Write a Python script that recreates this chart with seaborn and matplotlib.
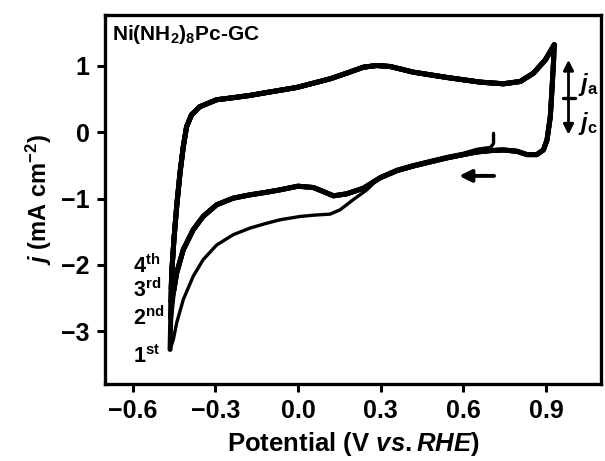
import matplotlib
matplotlib.use("Agg")
import matplotlib.pyplot as plt
import numpy as np
import pandas as pd
import seaborn as sns

# ---------------- data ----------------
# first cathodic sweep, starting at open circuit (0.71 V)
cat1_v = [0.71, 0.71, 0.70, 0.65, 0.60, 0.54, 0.48, 0.42, 0.36, 0.30, 0.25, 0.20,
          0.153, 0.117, 0.06, 0.008, -0.065, -0.12, -0.174, -0.235, -0.295, -0.344,
          -0.38, -0.416, -0.44, -0.452]
cat1_j = [-0.02, -0.17, -0.23, -0.26, -0.32, -0.37, -0.43, -0.49, -0.56, -0.67, -0.87, -1.02,
          -1.17, -1.235, -1.25, -1.27, -1.32, -1.38, -1.445, -1.545, -1.70, -1.92,
          -2.17, -2.52, -2.87, -3.12]

# anodic sweep (shared by all cycles, from just above the vertex to 0.93 V)
an_v = [-0.458, -0.45, -0.44, -0.428, -0.416, -0.404, -0.386, -0.356, -0.295, -0.247,
        -0.174, -0.126, -0.004, 0.117, 0.177, 0.238, 0.286, 0.335, 0.419, 0.541,
        0.662, 0.746, 0.807, 0.855, 0.898, 0.93]
an_j = [-2.12, -1.62, -1.12, -0.62, -0.22, 0.08, 0.26, 0.38, 0.485, 0.51,
        0.55, 0.585, 0.67, 0.80, 0.885, 0.975, 1.0, 0.985, 0.90, 0.82,
        0.75, 0.725, 0.76, 0.885, 1.085, 1.31]

# cathodic sweep of cycles 2-4 (from 0.93 V down to just above the vertex)
cat_v = [0.93, 0.928, 0.922, 0.916, 0.904, 0.891, 0.867, 0.831, 0.795, 0.746, 0.698,
         0.65, 0.60, 0.54, 0.48, 0.42, 0.36, 0.298, 0.238, 0.177, 0.129, 0.092,
         0.056, 0.0, -0.065, -0.12, -0.174, -0.235, -0.295, -0.344, -0.38, -0.416,
         -0.44, -0.452]
cat_j = [1.31, 1.085, 0.635, 0.23, -0.12, -0.27, -0.34, -0.34, -0.29, -0.27, -0.28,
         -0.30, -0.34, -0.39, -0.45, -0.51, -0.58, -0.69, -0.845, -0.93, -0.96, -0.895,
         -0.835, -0.815, -0.87, -0.91, -0.945, -0.995, -1.095, -1.27, -1.47, -1.77,
         -2.12, -2.42]

# cathodic vertex of each cycle
cycles = ["1st", "2nd", "3rd", "4th"]
vertex_v = [-0.464, -0.462, -0.461, -0.460]
vertex_j = [-3.27, -2.80, -2.55, -2.35]

cycle_labels = ["4$^{\\mathrm{th}}$", "3$^{\\mathrm{rd}}$", "2$^{\\mathrm{nd}}$", "1$^{\\mathrm{st}}$"]
cycle_label_j = [-2.12, -2.48, -2.90, -3.475]

xticks = [-0.6, -0.3, 0.0, 0.3, 0.6, 0.9]
yticks = [-3, -2, -1, 0, 1]

# ---------------- build segments ----------------
rows = []
def add(seg, vs, js):
    for k, (v, j) in enumerate(zip(vs, js)):
        rows.append(dict(segment=seg, order=k, potential=v, j=j))

add("cat1", cat1_v + [vertex_v[0]], cat1_j + [vertex_j[0]])
for c, vv, vj in zip(cycles, vertex_v, vertex_j):
    add("an_" + c, [vv] + an_v, [vj] + an_j)
for c, vv, vj in zip(cycles[1:], vertex_v[1:], vertex_j[1:]):
    add("cat_" + c, cat_v + [vv], cat_j + [vj])
df = pd.DataFrame(rows)

# ---------------- style ----------------
sns.set_style("ticks")
plt.rcParams["font.family"] = ["Liberation Sans", "DejaVu Sans"]
plt.rcParams["font.weight"] = "bold"
plt.rcParams["text.color"] = "black"
plt.rcParams["axes.labelcolor"] = "black"
plt.rcParams["xtick.color"] = "black"
plt.rcParams["ytick.color"] = "black"
plt.rcParams["mathtext.fontset"] = "custom"
plt.rcParams["mathtext.rm"] = "Liberation Sans:bold"
plt.rcParams["mathtext.bf"] = "Liberation Sans:bold"
plt.rcParams["mathtext.it"] = "Liberation Sans:italic:bold"
plt.rcParams["mathtext.default"] = "rm"

fig = plt.figure(figsize=(6.05, 4.61), dpi=100)
ax = fig.add_axes([0.1736, 0.167, 0.8198, 0.8005])

widths = {"cat1": 2.4}
for seg, sub in df.groupby("segment", sort=False):
    lw = widths.get(seg, 3.6)
    sns.lineplot(data=sub, x="potential", y="j", sort=False, estimator=None,
                 color="black", lw=lw, ax=ax, legend=False)

ax.set_xlim(-0.70, 1.10)
ax.set_ylim(-3.79, 1.76)
ax.set_xticks(xticks)
ax.set_xticklabels([f"{t:.1f}".replace("-", "\u2212") for t in xticks])
ax.set_yticks(yticks)
ax.set_yticklabels([str(t).replace("-", "\u2212") for t in yticks])
ax.tick_params(direction="out", length=6, width=2.2, labelsize=18, pad=5)
for s in ax.spines.values():
    s.set_linewidth(2.4)
    s.set_color("black")

ax.set_xlabel("Potential (V $\\mathit{vs.RHE}$)", fontsize=18.5, fontweight="bold", labelpad=5)
ax.set_ylabel("$\\mathit{j}$ (mA cm$^{-2}$)", fontsize=17, fontweight="bold", labelpad=5)

ax.text(-0.675, 1.386, "Ni(NH$_2$)$_8$Pc-GC", fontsize=15, fontweight="bold",
        ha="left", va="baseline")

for lab, yj in zip(cycle_labels, cycle_label_j):
    ax.text(-0.598, yj, lab, fontsize=15.5, fontweight="bold", ha="left", va="baseline")

# scan direction arrow
ax.annotate("", xy=(0.575, -0.66), xytext=(0.722, -0.66),
            arrowprops=dict(arrowstyle="-|>", lw=2.8, color="black", mutation_scale=18))
# ja / jc double arrow
ax.annotate("", xy=(0.982, 1.085), xytext=(0.982, -0.04),
            arrowprops=dict(arrowstyle="<|-|>", lw=2.0, color="black", mutation_scale=15,
                            shrinkA=0, shrinkB=0))
ax.plot([0.962, 1.004], [0.51, 0.51], color="black", lw=2.4)
ax.text(1.017, 0.61, "$\\mathit{j}_{\\mathrm{a}}$", fontsize=17, ha="left", va="baseline")
ax.text(1.017, 0.03, "$\\mathit{j}_{\\mathrm{c}}$", fontsize=17, ha="left", va="baseline")

fig.savefig("out.png", dpi=100)
